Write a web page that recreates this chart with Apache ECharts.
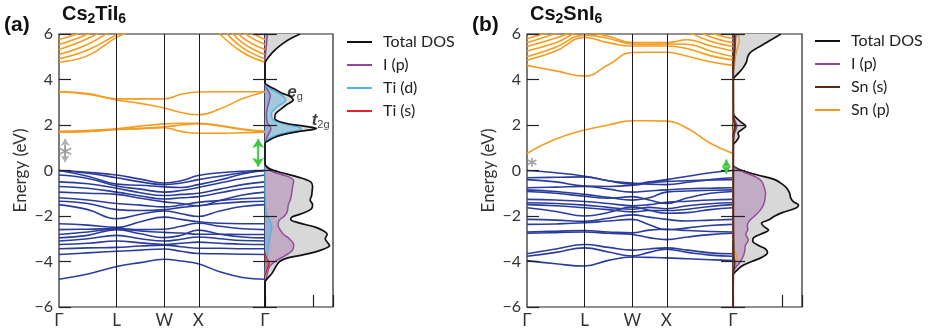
<!DOCTYPE html>
<html><head><meta charset="utf-8">
<script src="https://cdn.jsdelivr.net/npm/echarts@6/dist/echarts.min.js"></script>
<style>html,body{margin:0;padding:0;background:#fff}#c{width:930px;height:333px}</style>
</head><body><div id="c"></div>
<script>
// ---------- DATA ----------
const K = [0, 0.14, 0.28, 0.395, 0.511, 0.593, 0.676, 0.78, 0.89, 1.0];
const kSymPos = [0, 0.28, 0.511, 0.676, 1];
const kSymLabels = ['Γ', 'L', 'W', 'X', 'Γ'];
const kInnerLines = [0.28, 0.511, 0.676];
const energyMin = -6, energyMax = 6, energyStep = 2;

// (a) Cs2TiI6 bands, energies (eV) at K
const aValence = [
  [0.00, -0.08, -0.20, -0.38, -0.55, -0.45, -0.22, -0.10, -0.03, 0.00],
  [0.00, -0.12, -0.32, -0.50, -0.62, -0.55, -0.40, -0.25, -0.10, 0.00],
  [0.00, -0.25, -0.60, -0.65, -0.72, -0.75, -0.62, -0.42, -0.15, 0.00],
  [-0.20, -0.35, -0.68, -0.82, -0.95, -0.88, -0.75, -0.55, -0.35, -0.20],
  [-0.50, -0.58, -0.78, -0.98, -1.10, -1.05, -1.00, -0.82, -0.62, -0.50],
  [-0.70, -0.78, -0.95, -1.12, -1.25, -1.20, -1.15, -0.98, -0.80, -0.70],
  [-0.95, -1.00, -1.05, -1.22, -1.38, -1.45, -1.55, -1.32, -1.08, -0.95],
  [-1.20, -1.30, -1.45, -1.52, -1.60, -1.52, -1.40, -1.32, -1.24, -1.20],
  [-1.35, -1.45, -1.72, -1.76, -1.72, -1.62, -1.55, -1.45, -1.38, -1.35],
  [-1.50, -1.72, -2.12, -1.92, -1.78, -1.90, -2.02, -1.78, -1.58, -1.50],
  [-2.34, -2.40, -2.50, -2.25, -2.05, -2.15, -2.25, -2.32, -2.34, -2.34],
  [-2.60, -2.58, -2.55, -2.60, -2.58, -2.45, -2.32, -2.45, -2.56, -2.60],
  [-2.81, -2.70, -2.58, -2.66, -2.72, -2.75, -2.80, -2.80, -2.81, -2.81],
  [-2.96, -2.85, -2.60, -2.78, -2.95, -2.85, -2.62, -2.80, -2.92, -2.96],
  [-3.10, -3.00, -2.85, -3.00, -3.10, -3.02, -2.92, -3.00, -3.08, -3.10],
  [-3.25, -3.20, -3.10, -3.18, -3.25, -3.20, -3.15, -3.20, -3.24, -3.25],
  [-3.44, -3.40, -3.38, -3.32, -3.28, -3.35, -3.42, -3.42, -3.44, -3.44],
  [-3.69, -3.62, -3.55, -3.50, -3.45, -3.55, -3.65, -3.66, -3.68, -3.69],
  [-4.78, -4.55, -4.22, -4.05, -3.90, -3.98, -4.10, -4.45, -4.70, -4.78]
];
const aConduction = [
  [3.46, 3.38, 3.15, 3.15, 3.15, 3.35, 3.45, 3.46, 3.46, 3.46],
  [3.46, 3.35, 3.10, 2.95, 2.75, 2.55, 2.45, 2.70, 3.15, 3.46],
  [1.72, 1.76, 1.83, 1.95, 2.05, 2.08, 2.07, 1.98, 1.82, 1.72],
  [1.70, 1.72, 1.80, 1.85, 1.92, 2.00, 2.06, 1.96, 1.80, 1.70],
  [1.68, 1.72, 1.80, 1.84, 1.88, 1.72, 1.64, 1.64, 1.66, 1.68],
  [4.76, 5.05, 5.85, 6.30, 6.80, 7.00, 6.90, 6.00, 5.20, 4.76],
  [4.91, 5.30, 5.97, 6.50, 7.00, 7.00, 7.00, 6.30, 5.40, 4.91],
  [5.10, 5.55, 6.30, 7.00, 7.20, 7.20, 7.20, 6.60, 5.62, 5.10],
  [5.32, 5.80, 6.50, 7.20, 7.40, 7.40, 7.40, 6.90, 5.85, 5.32],
  [5.54, 6.00, 6.70, 7.40, 7.60, 7.60, 7.60, 7.10, 6.10, 5.54],
  [5.76, 6.20, 7.00, 7.60, 7.80, 7.80, 7.80, 7.40, 6.35, 5.76]
];

// (b) Cs2SnI6 bands
const bValence = [
  [0.00, -0.10, -0.25, -0.45, -0.60, -0.50, -0.40, -0.25, -0.10, 0.00],
  [-0.32, -0.30, -0.28, -0.45, -0.55, -0.60, -0.62, -0.52, -0.40, -0.32],
  [-0.40, -0.50, -0.68, -0.70, -0.65, -0.55, -0.48, -0.45, -0.42, -0.40],
  [-0.76, -0.73, -0.70, -0.82, -0.95, -0.90, -0.85, -0.80, -0.78, -0.76],
  [-0.85, -0.92, -1.05, -1.18, -1.30, -1.20, -0.95, -0.90, -0.87, -0.85],
  [-0.92, -1.00, -1.13, -1.22, -1.15, -1.30, -1.45, -1.20, -1.00, -0.92],
  [-1.27, -1.30, -1.36, -1.45, -1.55, -1.50, -1.40, -1.35, -1.30, -1.27],
  [-1.42, -1.45, -1.52, -1.62, -1.70, -1.62, -1.68, -1.55, -1.46, -1.42],
  [-1.50, -1.55, -1.64, -1.72, -1.82, -1.76, -1.76, -1.70, -1.58, -1.50],
  [-1.64, -1.80, -2.00, -1.85, -1.60, -1.75, -1.88, -1.85, -1.72, -1.64],
  [-2.15, -2.18, -2.23, -2.10, -1.95, -2.05, -2.15, -2.22, -2.18, -2.15],
  [-2.37, -2.35, -2.30, -2.22, -2.15, -2.38, -2.60, -2.52, -2.42, -2.37],
  [-2.70, -2.67, -2.64, -2.70, -2.74, -2.62, -2.58, -2.64, -2.68, -2.70],
  [-2.76, -2.73, -2.70, -2.76, -2.81, -2.95, -3.04, -2.92, -2.82, -2.76],
  [-3.66, -3.45, -3.25, -3.38, -3.50, -3.45, -3.40, -3.50, -3.62, -3.66],
  [-3.77, -3.60, -3.40, -3.58, -3.76, -3.60, -3.46, -3.60, -3.72, -3.77],
  [-3.96, -4.10, -4.20, -3.95, -3.80, -3.82, -3.84, -3.88, -3.92, -3.96]
];
const bConduction = [
  [0.75, 1.38, 1.78, 2.00, 2.19, 2.19, 2.17, 1.85, 1.20, 0.75],
  [4.62, 4.38, 4.15, 4.65, 5.19, 5.20, 5.20, 5.02, 4.78, 4.62],
  [4.85, 5.25, 5.85, 5.62, 5.47, 5.47, 5.47, 5.35, 5.05, 4.85],
  [5.00, 5.42, 5.95, 5.80, 5.56, 5.55, 5.56, 5.55, 5.25, 5.00],
  [5.25, 5.62, 6.10, 5.90, 5.62, 5.62, 5.62, 5.75, 5.48, 5.25],
  [5.45, 5.82, 6.30, 6.50, 6.50, 6.50, 6.50, 6.10, 5.68, 5.45],
  [5.62, 6.02, 6.50, 7.00, 7.00, 7.00, 7.00, 6.40, 5.88, 5.62],
  [5.80, 6.20, 6.80, 7.00, 7.00, 7.00, 7.00, 6.70, 6.08, 5.80]
];

// DOS curves: [energy eV, DOS]
const aDosTotal = [[-6,0],[-4.9,0],[-4.75,0.5],[-4.5,1.5],[-4.2,2.3],[-4.0,3.0],[-3.85,4.5],[-3.7,8.0],[-3.5,11.5],[-3.3,13.3],[-3.2,13.0],[-3.0,12.4],[-2.8,12.8],[-2.65,12.0],[-2.5,10.5],[-2.3,7.0],[-2.15,5.3],[-2.05,5.5],[-1.9,7.5],[-1.7,9.5],[-1.5,9.8],[-1.3,9.3],[-1.1,9.6],[-0.9,9.7],[-0.7,9.8],[-0.5,9.4],[-0.3,7.0],[-0.1,3.5],[0.05,1.2],[0.2,0.2],[0.3,0],[1.2,0],[1.3,0.6],[1.5,2.5],[1.7,6.5],[1.85,10.6],[1.95,8.0],[2.1,3.8],[2.3,2.0],[2.5,2.2],[2.7,3.3],[2.9,4.5],[3.1,5.8],[3.25,5.2],[3.4,3.5],[3.6,1.8],[3.75,0.5],[3.85,0],[4.7,0],[4.85,0.3],[5.0,0.8],[5.2,1.6],[5.4,2.6],[5.6,3.8],[5.8,5.3],[6.0,7.2]];
const aDosIp = [[-4.9,0],[-4.6,0.4],[-4.2,1.0],[-3.95,2.4],[-3.7,4.5],[-3.45,5.8],[-3.25,5.9],[-3.0,5.0],[-2.8,3.8],[-2.6,3.1],[-2.4,2.7],[-2.2,2.9],[-2.0,4.0],[-1.8,4.6],[-1.5,4.8],[-1.3,5.2],[-1.0,5.5],[-0.7,5.7],[-0.45,5.9],[-0.25,4.5],[-0.05,1.5],[0.15,0.2],[0.3,0],[1.2,0],[1.5,0.5],[1.85,1.2],[2.1,0.5],[2.5,0.3],[3.0,0.8],[3.3,1.1],[3.6,0.4],[3.8,0],[4.8,0],[5.5,0.3],[6,0.5]];
const aDosTid = [[-4.6,0],[-4.0,0.3],[-3.6,0.6],[-3.2,0.8],[-2.8,1.1],[-2.5,1.4],[-2.2,1.0],[-1.9,0.3],[-1.5,0.1],[-0.5,0],[1.2,0],[1.4,0.8],[1.6,3.0],[1.85,7.5],[2.0,5.0],[2.2,1.8],[2.5,1.3],[2.8,2.5],[3.1,4.3],[3.3,3.5],[3.5,1.8],[3.7,0.3],[3.8,0]];
const aDosTis = [[-4.6,0],[-4.3,0.5],[-4.05,0.9],[-3.85,0.3],[-3.6,0]];

const bDosTotal = [[-6,0],[-4.6,0],[-4.45,0.5],[-4.2,1.8],[-4.0,3.8],[-3.8,6.0],[-3.6,7.0],[-3.45,6.6],[-3.3,5.2],[-3.1,4.0],[-2.95,4.2],[-2.8,5.6],[-2.62,7.2],[-2.45,6.2],[-2.32,5.8],[-2.18,7.2],[-2.0,8.5],[-1.85,10.0],[-1.65,12.8],[-1.52,13.3],[-1.38,12.3],[-1.2,11.7],[-1.0,11.5],[-0.8,11.0],[-0.6,10.0],[-0.4,8.5],[-0.2,5.0],[0,1.8],[0.15,0.3],[0.25,0],[1.1,0],[1.3,0.7],[1.5,1.2],[1.65,1.0],[1.8,1.8],[1.95,2.6],[2.1,1.8],[2.3,0.7],[2.45,0.1],[2.55,0],[4.0,0],[4.1,0.3],[4.3,1.2],[4.5,2.0],[4.75,2.7],[5.0,3.0],[5.2,3.6],[5.4,5.0],[5.6,6.6],[5.8,8.2],[6.0,9.7]];
const bDosIp = [[-4.5,0],[-4.3,0.4],[-4.0,1.5],[-3.7,2.2],[-3.5,2.4],[-3.3,2.5],[-3.05,3.1],[-2.8,2.6],[-2.6,3.0],[-2.4,2.9],[-2.2,3.4],[-2.0,4.4],[-1.75,5.5],[-1.5,6.2],[-1.25,6.5],[-1.0,6.6],[-0.8,6.4],[-0.5,5.9],[-0.3,4.8],[-0.1,2.5],[0.1,0.5],[0.25,0],[1.2,0],[1.6,0.3],[1.95,0.8],[2.3,0.2],[2.5,0],[4.0,0],[5.0,0.3],[6.0,0.6]];
const bDosSns = [[-6,0],[-4.5,0.05],[-4.1,0.3],[-3.8,0.15],[-2,0.05],[0,0.05],[1.6,0.1],[1.95,0.45],[2.3,0.1],[4.5,0.05],[5.5,0.3],[6,0.25]];
const bDosSnp = [[-4.4,0],[-4.1,0.3],[-3.8,0.8],[-3.55,0.4],[-3.2,0.1],[-2.9,0],[1.7,0],[1.95,0.2],[2.2,0],[4.2,0],[4.6,0.3],[5.0,0.5],[5.4,0.9],[5.7,1.3],[6.0,1.0]];

// annotations: [k, E_low, E_high]
const aGapArrow = [0.967, 0.17, 1.38];
const bGapArrow = [0.968, -0.14, 0.48];
const aGrayArrow = [0.03, 0.36, 1.40];
const aGrayStar = [0.03, 0.85];
const bGrayStar = [0.024, 0.36];
const aEgLabel = [4.6, 3.45];
const aT2gLabel = [9.6, 2.2];

// ---------- CHART ----------
const FONT = 'Lato, "Open Sans", sans-serif';
const BLUE = '#2a3d9e', ORANGE = '#f59c1e';
const fmtE = v => v < 0 ? '\u2212' + (-v) : String(v);
const fmtK = v => { const i = kSymPos.findIndex(p => Math.abs(p - v) < 1e-6); return i >= 0 ? kSymLabels[i] : ''; };

function bandSeries(xi, yi, bands, color, extra) {
  return bands.map((b, j) => Object.assign({
    type: 'line', xAxisIndex: xi, yAxisIndex: yi, silent: true, symbol: 'none', smooth: 0.45,
    lineStyle: { color, width: 1.6 }, z: 3,
    data: K.map((k, i) => [k, b[i]])
  }, j === 0 ? extra : {}));
}
function dosLine(xi, yi, name, pts, color, width) {
  return { type: 'line', name, xAxisIndex: xi, yAxisIndex: yi, silent: true, symbol: 'none', smooth: 0.35,
    itemStyle: { color }, lineStyle: { color, width }, z: 4,
    data: pts.map(d => [d[1], d[0]]) };
}
function dosFill(xi, yi, pts, color) {
  return { type: 'custom', xAxisIndex: xi, yAxisIndex: yi, silent: true, clip: true, z: 2, data: [[0, 0]],
    renderItem: (params, api) => {
      const p = pts.map(d => api.coord([d[1], d[0]]));
      if (pts[0][1] !== 0) p.unshift(api.coord([0, pts[0][0]]));
      if (pts[pts.length - 1][1] !== 0) p.push(api.coord([0, pts[pts.length - 1][0]]));
      return { type: 'polygon', shape: { points: p, smooth: 0.35 }, style: { fill: color } };
    } };
}
function arrowSeries(xi, yi, a, color, w, size) {
  return { type: 'line', xAxisIndex: xi, yAxisIndex: yi, silent: true, z: 6, symbol: 'arrow', symbolSize: size,
    showSymbol: true, itemStyle: { color }, lineStyle: { color, width: w },
    data: [{ value: [a[0], a[1]], symbolRotate: 180 }, { value: [a[0], a[2]], symbolRotate: 0 }] };
}
function starSeries(xi, yi, pt, size) {
  return { type: 'scatter', xAxisIndex: xi, yAxisIndex: yi, silent: true, z: 7,
    symbol: 'path://M10,0L10,20M1.3,5L18.7,15M1.3,15L18.7,5', symbolSize: size,
    itemStyle: { color: 'rgba(0,0,0,0)', borderColor: '#8c8c8c', borderWidth: 1.6 }, data: [pt] };
}
const vLines = { silent: true, symbol: ['none', 'none'], label: { show: false }, animation: false,
  lineStyle: { color: '#1a1a1a', width: 1, type: 'solid' }, emphasis: { disabled: true },
  data: kInnerLines.map(v => ({ xAxis: v })) };

const gridBase = { show: true, borderColor: '#222', borderWidth: 1.2, backgroundColor: 'transparent' };
const bandX = gi => ({ gridIndex: gi, type: 'value', min: 0, max: 1, axisLine: { show: false, onZero: false }, axisTick: { show: false },
  splitLine: { show: false }, axisLabel: { customValues: kSymPos, formatter: fmtK, fontSize: 17, color: '#333', margin: 5, fontFamily: FONT } });
const dosX = gi => ({ gridIndex: gi, type: 'value', min: 0, max: 14, interval: 10, axisLine: { show: false, onZero: false },
  axisTick: { inside: true, length: 12, lineStyle: { color: '#222', width: 1.2 } }, axisLabel: { show: false }, splitLine: { show: false } });
const yBase = (gi, pos, labels) => ({ gridIndex: gi, type: 'value', position: pos, min: energyMin, max: energyMax, interval: energyStep, z: 5,
  axisLine: { show: false, onZero: false }, splitLine: { show: false },
  axisTick: { inside: true, length: 12, lineStyle: { color: '#222', width: 1.2 } },
  axisLabel: labels ? { formatter: fmtE, fontSize: 16, color: '#333', margin: 6, fontFamily: FONT } : { show: false },
  name: labels ? 'Energy (eV)' : '', nameLocation: 'middle', nameGap: 30,
  nameTextStyle: { fontSize: 17, color: '#333', fontFamily: FONT } });

const legendBase = { orient: 'vertical', icon: 'rect', itemWidth: 25, itemHeight: 2, itemGap: 5, padding: 0, selectedMode: false,
  textStyle: { fontSize: 16, lineHeight: 18, color: '#222', fontFamily: FONT, padding: [0, 0, 0, 6] } };
const titleMain = { fontSize: 20, fontWeight: 'bold', color: '#111', fontFamily: '"Liberation Sans", Arial, sans-serif', lineHeight: 24,
  rich: { s: { fontSize: 14, fontWeight: 'bold', color: '#111', fontFamily: '"Liberation Sans", Arial, sans-serif', lineHeight: 16, verticalAlign: 'bottom' } } };
const titleTag = { fontSize: 21, fontWeight: 'bold', color: '#111', fontFamily: '"Liberation Sans", Arial, sans-serif' };

const series = [
  ...bandSeries(0, 0, aValence, BLUE, { markLine: vLines }),
  ...bandSeries(0, 0, aConduction, ORANGE),
  dosFill(1, 2, aDosTotal, '#d8d8d8'),
  dosFill(1, 2, aDosIp, 'rgba(150,80,155,0.32)'),
  dosFill(1, 2, aDosTid, 'rgba(80,175,230,0.38)'),
  dosFill(1, 2, aDosTis, 'rgba(232,32,42,0.6)'),
  dosLine(1, 2, 'I (p)', aDosIp, '#93479b', 1.4),
  dosLine(1, 2, 'Ti (d)', aDosTid, '#4db3ea', 1.4),
  dosLine(1, 2, 'Ti (s)', aDosTis, '#e8202a', 1.4),
  dosLine(1, 2, 'Total DOS', aDosTotal, '#111', 1.7),
  arrowSeries(0, 0, aGapArrow, '#3cc83c', 2, [9, 9]),
  arrowSeries(0, 0, aGrayArrow, '#b0b0b0', 1.5, [7, 7]),
  starSeries(0, 0, aGrayStar, 12),
  { type: 'scatter', xAxisIndex: 1, yAxisIndex: 2, symbolSize: 0, silent: true, clip: false, z: 8,
    data: [{ value: aEgLabel, label: { formatter: '{m|e}{s|g}' } }, { value: aT2gLabel, label: { formatter: '{m|t}{s|2g}' } }],
    label: { show: true, position: 'right', distance: 0,
      rich: { m: { fontSize: 17, fontWeight: 'bold', fontStyle: 'italic', fontFamily: '"Liberation Sans", Arial', color: '#111', lineHeight: 20 },
              s: { fontSize: 11, fontFamily: '"Liberation Sans", Arial', color: '#111', lineHeight: 12, verticalAlign: 'bottom' } } } },

  ...bandSeries(2, 3, bValence, BLUE, { markLine: vLines }),
  ...bandSeries(2, 3, bConduction, ORANGE),
  dosFill(3, 5, bDosTotal, '#d8d8d8'),
  dosFill(3, 5, bDosIp, 'rgba(150,80,155,0.32)'),
  dosLine(3, 5, 'Total DOS', bDosTotal, '#111', 1.7),
  dosLine(3, 5, 'I (p)', bDosIp, '#93479b', 1.4),
  dosLine(3, 5, 'Sn (p)', bDosSnp, '#f39a1a', 1.4),
  dosLine(3, 5, 'Sn (s)', bDosSns, '#5a2a1c', 2),
  arrowSeries(2, 3, bGapArrow, '#3cc83c', 2, [7, 8]),
  starSeries(2, 3, bGrayStar, 9)
];

const option = {
  animation: false,
  backgroundColor: '#fff',
  title: [
    { text: '(a)', left: 4, top: 15, padding: 0, textStyle: titleTag },
    { text: 'Cs{s|2}TiI{s|6}', left: 62, top: 2, padding: 0, textStyle: titleMain },
    { text: '(b)', left: 472, top: 15, padding: 0, textStyle: titleTag },
    { text: 'Cs{s|2}SnI{s|6}', left: 530, top: 2, padding: 0, textStyle: titleMain }
  ],
  legend: [
    Object.assign({ data: ['Total DOS', 'I (p)', 'Ti (d)', 'Ti (s)'], left: 347, top: 33 }, legendBase),
    Object.assign({ data: ['Total DOS', 'I (p)', 'Sn (s)', 'Sn (p)'], left: 815, top: 32 }, legendBase)
  ],
  grid: [
    Object.assign({ left: 59, top: 34, width: 206, height: 273 }, gridBase),
    Object.assign({ left: 265, top: 34, width: 68, height: 273 }, gridBase),
    Object.assign({ left: 527, top: 34, width: 206, height: 273 }, gridBase),
    Object.assign({ left: 733, top: 34, width: 69, height: 273 }, gridBase)
  ],
  xAxis: [bandX(0), dosX(1), bandX(2), dosX(3)],
  yAxis: [yBase(0, 'left', true), yBase(0, 'right', false), yBase(1, 'left', false),
          yBase(2, 'left', true), yBase(2, 'right', false), yBase(3, 'left', false)],
  series
};
const chart = echarts.init(document.getElementById('c'));
chart.setOption(option);
</script></body></html>
